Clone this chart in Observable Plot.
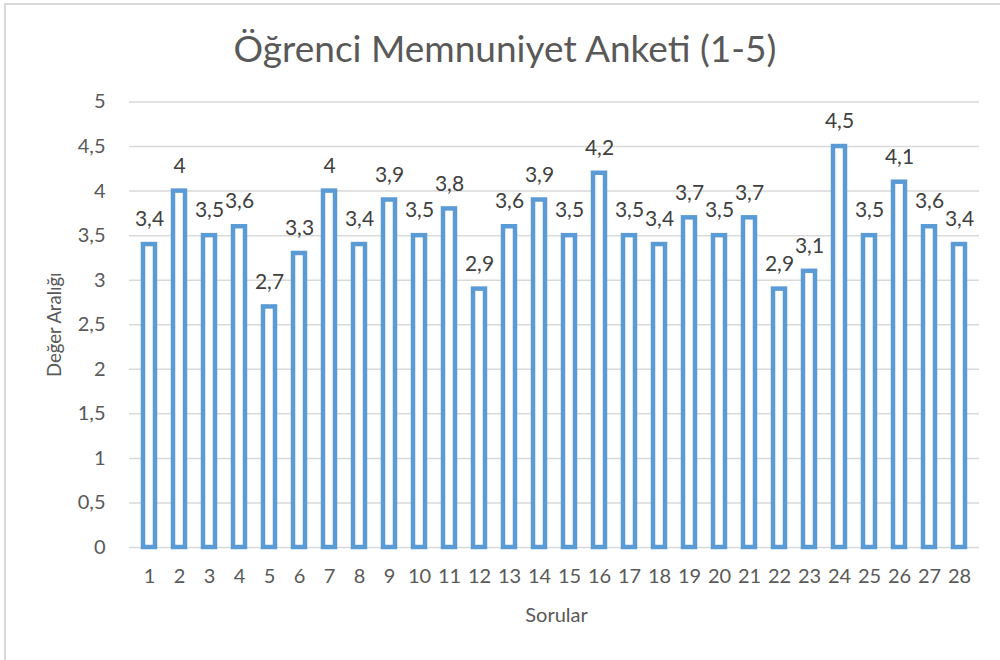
<!DOCTYPE html>
<html>
<head>
<meta charset="utf-8">
<script src="https://cdn.jsdelivr.net/npm/d3@7"></script>
<script src="https://cdn.jsdelivr.net/npm/@observablehq/plot@0.6"></script>
<style>
  html, body { margin: 0; padding: 0; background: #fff; }
  #wrap { position: relative; width: 1000px; height: 660px; overflow: hidden; font-family: Lato, "Open Sans", sans-serif; }
  #frame { position: absolute; left: 4px; top: 3px; width: 1200px; height: 900px; border-left: 2px solid #d9d9d9; border-top: 2px solid #d9d9d9; pointer-events: none; }
  #title { position: absolute; left: 0; top: 0; width: 1000px; height: 96px; line-height: 96px; text-align: center; font-size: 37px; color: #595959; padding-left: 10px; box-sizing: border-box; z-index: 2; }
  #chart { position: absolute; left: 0; top: 0; }
  svg { display: block; }
</style>
</head>
<body>
<div id="wrap">
  <div id="frame"></div>
  <div id="chart"></div>
  <div id="title">Öğrenci Memnuniyet Anketi (1-5)</div>
</div>
<script>
const questions = [1,2,3,4,5,6,7,8,9,10,11,12,13,14,15,16,17,18,19,20,21,22,23,24,25,26,27,28];
const scores = [3.4,4,3.5,3.6,2.7,3.3,4,3.4,3.9,3.5,3.8,2.9,3.6,3.9,3.5,4.2,3.5,3.4,3.7,3.5,3.7,2.9,3.1,4.5,3.5,4.1,3.6,3.4];
const yTicks = [0,0.5,1,1.5,2,2.5,3,3.5,4,4.5,5];
const yLabel = "Değer Aralığı";
const xLabel = "Sorular";

const data = questions.map((q, i) => ({q, v: scores[i]}));
const fmt = v => String(v).replace(".", ",");

const plot = Plot.plot({
  width: 1000,
  height: 660,
  marginLeft: 129,
  marginRight: 21,
  marginTop: 101.5,
  marginBottom: 113,
  style: {fontFamily: "Lato, 'Open Sans', sans-serif", background: "transparent"},
  x: {type: "band", domain: questions, paddingInner: 0.6, paddingOuter: 0.3, label: null},
  y: {domain: [0, 5], label: null},
  marks: [
    Plot.ruleY(yTicks, {stroke: "#d9d9d9", strokeWidth: 1.5}),
    Plot.barY(data, {x: "q", y: "v", fill: "white", stroke: "#5B9BD5", strokeWidth: 4.5}),
    Plot.text(data, {x: "q", y: "v", text: d => fmt(d.v), dy: -25, lineAnchor: "middle", fontSize: 21, fill: "#404040"}),
    Plot.axisY(yTicks, {tickSize: 0, tickPadding: 24, tickFormat: fmt, fontSize: 20, fill: "#595959", label: null}),
    Plot.axisX({tickSize: 0, tickPadding: 21, fontSize: 20, fill: "#595959", label: null}),
    Plot.text([yLabel], {frameAnchor: "left", textAnchor: "middle", lineAnchor: "middle", dx: -74, rotate: -90, fontSize: 18.5, fill: "#595959", text: d => d}),
    Plot.text([xLabel], {frameAnchor: "bottom", textAnchor: "middle", lineAnchor: "middle", dx: 2, dy: 68, fontSize: 20, fill: "#595959", text: d => d})
  ]
});
document.getElementById("chart").appendChild(plot);
</script>
</body>
</html>
